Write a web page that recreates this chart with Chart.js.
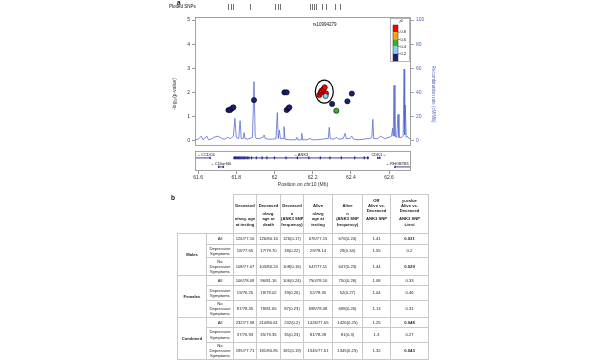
<!DOCTYPE html>
<html><head><meta charset="utf-8">
<script src="https://cdn.jsdelivr.net/npm/chart.js@4.4.1/dist/chart.umd.min.js"></script>
<style>
html,body{margin:0;padding:0;background:#fff;width:600px;height:360px;overflow:hidden;}
#c{position:absolute;left:0;top:0;}
.lbl{position:absolute;font-family:"Liberation Sans",Arial,sans-serif;color:#111;white-space:nowrap;line-height:1;}
#tbl{position:absolute;left:177px;top:194px;border-collapse:collapse;table-layout:fixed;
 font-family:"Liberation Sans Narrow","Liberation Sans",sans-serif;font-size:4.2px;color:#222;}
#tbl td{border:1px solid #c9c9c9;padding:0;text-align:center;vertical-align:middle;line-height:5.2px;overflow:hidden;white-space:nowrap;}
#tbl td.blank{border:none;}
#tbl .hd{position:relative;height:38px;font-weight:bold;}
#tbl .hd .top{position:absolute;left:0;right:0;top:1px;height:19px;display:flex;flex-direction:column;justify-content:center;}
#tbl .hd .bot{position:absolute;left:0;right:0;top:16px;}
#tbl .grp{font-weight:bold;}
#tbl b{font-weight:bold;}
</style>
</head><body>
<canvas id="c" width="600" height="360"></canvas>
<div class="lbl" style="left:177px;top:0px;font-size:6.5px;font-weight:bold;">a</div>
<div class="lbl" style="left:169px;top:5px;font-size:4.5px;">Plotted SNPs</div>
<div class="lbl" style="left:171px;top:195px;font-size:6.5px;font-weight:bold;">b</div>
<table id="tbl"></table>
<script>
// ---------- panel a data ----------
const snpPos  = [61.759,61.768,61.778,61.785,61.893,62.052,62.064,62.064,62.073,62.078,
                 62.235,62.242,62.247,62.256,62.263,62.270,62.268,62.302,62.324,62.382,62.405];
const snpLogP = [1.28,1.28,1.35,1.39,1.69,2.01,2.01,1.28,1.35,1.39,
                 1.90,2.00,2.08,2.14,2.22,1.97,1.86,1.53,1.25,1.64,1.96];
const snpR2   = [0.1,0.1,0.1,0.1,0.1,0.1,0.1,0.1,0.1,0.1,
                 0.9,0.9,0.9,0.9,0.9,0.9,0.3,0.1,0.5,0.1,0.1];
const indexSnp = 'rs10994279';
const indexPos = 62.263;

const recombPos  = [61.585,61.600,61.617,61.625,61.646,61.655,61.675,61.680,61.705,61.715,61.725,61.740,61.755,61.770,61.785,
  61.793,61.800,61.813,61.820,61.826,61.836,61.841,61.846,61.860,61.885,61.893,61.899,61.905,61.920,61.940,61.946,61.952,
  61.970,61.990,62.008,62.015,62.020,62.026,62.031,62.045,62.050,62.055,62.080,62.100,62.112,62.117,62.122,62.140,62.143,
  62.148,62.170,62.186,62.200,62.220,62.250,62.270,62.282,62.287,62.292,62.310,62.326,62.335,62.360,62.370,62.376,62.395,
  62.405,62.415,62.440,62.470,62.485,62.500,62.510,62.515,62.520,62.540,62.557,62.565,62.580,62.600,62.613,62.619,62.622,
  62.626,62.631,62.640,62.647,62.652,62.668,62.674,62.679,62.682,62.685,62.690,62.696,62.705,62.715];
const recombRate = [1,1.5,4,1,4,1,2,3,4,3,2,1.5,3,2,4,
  18.7,3,2,16.8,2,2,6.9,2,1.5,3,49,4,2,2,3,5,2,
  1.5,1.5,2,23.4,2,9,2,2,11.8,1.5,1,1,1,3,1,1,6.3,
  1,1,2,1,1,1.5,2,2,11.3,2,1.5,3,1.5,2,6.3,2,2,
  4,1.5,1,1.5,2,2,3,17.9,2,2,4,3,2,3,4,10.5,4,
  46,4,3,22,3,3,4,59.5,5,29.7,3,4,2,2];

const xTicks  = [61.6,61.8,62.0,62.2,62.4,62.6];
const yTicks  = [0,1,2,3,4,5];
const y2Ticks = [0,20,40,60,80,100];
const rugPos  = [61.757,61.770,61.783,61.872,62.003,62.016,62.029,62.186,62.197,62.207,62.218,62.249,62.270,62.317,62.343];

const geneNames  = ['CCDC6','C10orf40','ANK3','CDK1','RHOBTB1'];
const geneStart  = [61.548,61.705,61.786,62.538,62.628];
const geneEnd    = [61.666,61.735,62.493,62.555,62.761];
const geneStrand = ['-','-','-','+','-'];
const geneRow    = [0,1,0,0,1];
const ank3Exons  = [61.790,61.795,61.800,61.806,61.812,61.818,61.824,61.830,61.836,61.842,61.850,61.858,61.866,61.880,61.905,61.935,
                    61.960,62.000,62.060,62.120,62.180,62.240,62.290,62.350,62.420,62.470,62.488];

const r2Breaks = [0.8,0.6,0.4,0.2];
const r2Colors = ['#ff0000','#ffa500','#33b233','#87cefa','#1e1e78'];

// ---------- panel b data ----------
const groupNames = ['Males','Females','Combined'];
const subNames   = ['All','Depressive Symptoms','No Depressive Symptoms'];
const headTop = [['Deceased'],['Deceased'],['Deceased'],['Alive'],['Alive'],['OR','Alive vs.','Deceased'],['p-value','Alive vs.','Deceased']];
const headBot = [['','n/avg. age','at testing'],['n/avg.','age at','death'],['n','(ANK3 SNP','frequency)'],
                 ['n/avg','age at','testing'],['n','(ANK3 SNP','frequency)'],['','ANK3 SNP'],['','ANK3 SNP','t-test']];
const decTesting = ['126/77.16','18/77.65','108/77.07','106/78.09','19/76.25','87/78.45','232/77.58','37/76.93','195/77.71'];
const decDeath   = ['126/80.16','17/79.70','103/80.24','96/81.16','18/79.02','78/81.65','214/80.61','35/79.35','181/80.85'];
const decSnp     = ['126(0.17)','18(0.22)','108(0.16)','106(0.24)','19(0.26)','87(0.23)','232(0.2)','35(0.23)','181(0.19)'];
const aliveTest  = ['676/77.15','29/78.14','647/77.11','750/78.10','52/78.35','698/78.08','1426/77.65','81/78.28','1345/77.61'];
const aliveSnp   = ['676(0.24)','29(0.34)','647(0.23)','750(0.26)','52(0.27)','698(0.26)','1426(0.25)','81(0.3)','1345(0.25)'];
const oddsRatio  = ['1.41','1.55','1.44','1.08','1.04','1.13','1.25','1.3','1.32'];
const pValue     = ['0.031','0.2','0.029','0.33','0.46','0.31','0.048','0.27','0.043'];

// ---------- table ----------
(function(){
  const colW = [29,27,23,24,23,29,30,28,38];
  const rowH = [11,13,18,10,15,16,10,15,17];
  const t = document.getElementById('tbl');
  let h = '<colgroup>'+colW.map(w=>'<col style="width:'+w+'px">').join('')+'</colgroup>';
  h += '<tr style="height:39px"><td class="blank"></td><td class="blank"></td>';
  for(let i=0;i<headTop.length;i++){
    h += '<td style="vertical-align:top"><div class="hd"><div class="top">'+headTop[i].map(s=>'<div>'+s+'</div>').join('')+
         '</div><div class="bot">'+headBot[i].map(s=>'<div style="height:5.3px">'+s+'</div>').join('')+'</div></div></td>';
  }
  h += '</tr>';
  const cols = [decTesting,decDeath,decSnp,aliveTest,aliveSnp,oddsRatio,pValue];
  for(let g=0;g<groupNames.length;g++){
    for(let s=0;s<subNames.length;s++){
      const r = g*3+s;
      h += '<tr style="height:'+rowH[r]+'px">';
      if(s===0) h += '<td class="grp" rowspan="3">'+groupNames[g]+'</td>';
      h += '<td>'+subNames[s].split(' ').join('<br>')+'</td>';
      cols.forEach((c,ci)=>{
        const v = c[r];
        const bold = (ci===6 && parseFloat(v)<0.05);
        h += '<td>'+(bold?'<b>'+v+'</b>':v)+'</td>';
      });
      h += '</tr>';
    }
  }
  t.innerHTML = h;
})();

// ---------- chart ----------
const F = '"Liberation Sans", Arial, sans-serif';
function r2Color(r){ if(r>=0.8) return r2Colors[0]; if(r>=0.6) return r2Colors[1]; if(r>=0.4) return r2Colors[2]; if(r>=0.2) return r2Colors[3]; return r2Colors[4]; }

const overlay = {
  id:'overlay',
  afterDraw(chart){
    const {ctx, chartArea:ca, scales:{x,y}} = chart;
    ctx.save();
    const boxBottom = y.getPixelForValue(-0.16);
    // plot box
    ctx.strokeStyle='#8a8a8a'; ctx.lineWidth=0.8;
    ctx.strokeRect(ca.left+0.5, ca.top+0.5, ca.right-ca.left-1, boxBottom-ca.top);
    // gene box
    const gTop = boxBottom+6, gBot = ca.bottom;
    ctx.strokeRect(ca.left+0.5, gTop+0.5, ca.right-ca.left-1, gBot-gTop-1);
    // genes
    ctx.save();
    ctx.beginPath(); ctx.rect(ca.left+1, gTop+1, ca.right-ca.left-2, gBot-gTop-2); ctx.clip();
    for(let i=0;i<geneNames.length;i++){
      const x0 = x.getPixelForValue(geneStart[i]), x1 = x.getPixelForValue(geneEnd[i]);
      const ly = gTop + 7 + geneRow[i]*9;
      ctx.fillStyle='#2b2b8a';
      ctx.fillRect(x0, ly-0.4, x1-x0, 0.9);
      ctx.fillRect(x0, ly-1.2, 1.2, 2.4); ctx.fillRect(x1-1.2, ly-1.2, 1.2, 2.4);
    }
    ctx.fillStyle='#2b2b8a';
    for(const e of ank3Exons){ const ex=x.getPixelForValue(e); ctx.fillRect(ex-0.6, gTop+5.6, 1.3, 2.8); }
    ctx.restore();
    ctx.font = '4px '+F; ctx.fillStyle='#111'; ctx.textBaseline='middle';
    for(let i=0;i<geneNames.length;i++){
      const x0 = x.getPixelForValue(geneStart[i]), x1 = x.getPixelForValue(geneEnd[i]);
      const txt = geneStrand[i]==='+' ? geneNames[i]+'\u2192' : '\u2190'+geneNames[i];
      const w = ctx.measureText(txt).width;
      let cx = (x0+x1)/2 - w/2;
      cx = Math.max(ca.left+2, Math.min(ca.right-2-w, cx));
      ctx.textAlign='left';
      ctx.fillText(txt, cx, gTop + 3.6 + geneRow[i]*9);
    }
    // rug of plotted SNPs
    ctx.strokeStyle='#333'; ctx.lineWidth=0.7;
    for(const p of rugPos){ const px=Math.round(x.getPixelForValue(p))+0.5; ctx.beginPath(); ctx.moveTo(px,4); ctx.lineTo(px,10); ctx.stroke(); }
    // index SNP label
    ctx.font='4.5px '+F; ctx.textAlign='center'; ctx.fillStyle='#111';
    ctx.fillText(indexSnp, x.getPixelForValue(indexPos), ca.top+8);
    // ellipse around top hits
    ctx.strokeStyle='#000'; ctx.lineWidth=1.2;
    ctx.beginPath(); ctx.ellipse(x.getPixelForValue(62.261), y.getPixelForValue(2.04), 9, 11.5, 0, 0, Math.PI*2); ctx.stroke();
    // r2 legend
    const lx0 = ca.right-21, ly0 = ca.top+1, lw=20, lh=44;
    ctx.fillStyle='#fff'; ctx.fillRect(lx0,ly0,lw,lh);
    ctx.strokeStyle='#999'; ctx.lineWidth=0.7; ctx.strokeRect(lx0+0.5,ly0+0.5,lw-1,lh-1);
    ctx.fillStyle='#111'; ctx.font='italic 4.5px '+F; ctx.textAlign='center';
    ctx.fillText('r\u00b2', lx0+11, ly0+4);
    const bh = 7.2, bx = lx0+3, by = ly0+7;
    for(let k=0;k<r2Colors.length;k++){
      ctx.fillStyle=r2Colors[k]; ctx.fillRect(bx, by+k*bh, 5, bh);
    }
    ctx.strokeStyle='#333'; ctx.lineWidth=0.5; ctx.strokeRect(bx,by,5,bh*5);
    ctx.font='4px '+F; ctx.textAlign='left'; ctx.fillStyle='#111';
    r2Breaks.forEach((b,k)=>{ const ty=by+(k+1)*bh; ctx.beginPath(); ctx.moveTo(bx+5,ty); ctx.lineTo(bx+7,ty); ctx.stroke(); ctx.fillText(String(b), bx+7.5, ty); });
    ctx.restore();
  }
};

const ctx = document.getElementById('c').getContext('2d');
new Chart(ctx, {
  type:'scatter',
  data:{ datasets:[
    { label:'SNPs', yAxisID:'y', order:1,
      data: snpPos.map((p,i)=>({x:p, y:snpLogP[i]})),
      pointRadius:2.6, pointBorderWidth:0.6, pointBorderColor:'#000',
      pointBackgroundColor: snpR2.map(r2Color), showLine:false },
    { label:'Recombination rate', type:'line', yAxisID:'y2', order:2,
      data: recombPos.map((p,i)=>({x:p, y:recombRate[i]})),
      borderColor:'rgba(80,100,205,0.85)', borderWidth:0.9, pointRadius:0, tension:0, fill:false }
  ]},
  options:{
    responsive:false, animation:false, devicePixelRatio:1,
    layout:{padding:{left:172, right:164, top:17, bottom:172}},
    plugins:{legend:{display:false}, tooltip:{enabled:false}},
    scales:{
      x:{ type:'linear', min:61.584, max:62.715,
          afterBuildTicks:s=>{ s.ticks = xTicks.map(v=>({value:v})); },
          afterFit:s=>{ s.height = 17; },
          ticks:{ font:{size:5, family:F}, color:'#333', padding:1, maxRotation:0, autoSkip:false,
                  callback:v=>String(+(+v).toFixed(1)) },
          grid:{ drawOnChartArea:false, drawTicks:true, tickLength:3, color:'#555', lineWidth:0.6 },
          border:{ display:false },
          title:{ display:true, text:'Position on chr10 (Mb)', font:{size:5, family:F}, color:'#333', padding:{top:1,bottom:0} } },
      y:{ position:'left', min:-1.24, max:5.124,
          afterBuildTicks:s=>{ s.ticks = yTicks.map(v=>({value:v})); },
          afterFit:s=>{ s.width = 23; },
          ticks:{ font:{size:5, family:F}, color:'#333', padding:2, autoSkip:false },
          grid:{ drawOnChartArea:false, drawTicks:true, tickLength:3, color:'#555', lineWidth:0.6 },
          border:{ display:false },
          title:{ display:true, text:'-log\u2081\u2080(p-value)', font:{size:5, family:F}, color:'#333', padding:0 } },
      y2:{ position:'right', min:-24.8, max:102.5,
          afterBuildTicks:s=>{ s.ticks = y2Ticks.map(v=>({value:v})); },
          afterFit:s=>{ s.width = 25; },
          ticks:{ font:{size:5, family:F}, color:'#5566bb', padding:2, autoSkip:false },
          grid:{ drawOnChartArea:false, drawTicks:true, tickLength:3, color:'#5566bb', lineWidth:0.6 },
          border:{ display:false },
          title:{ display:true, text:'Recombination rate (cM/Mb)', font:{size:4.5, family:F}, color:'#5566bb', padding:0 } }
    }
  },
  plugins:[overlay]
});
</script>
</body></html>
